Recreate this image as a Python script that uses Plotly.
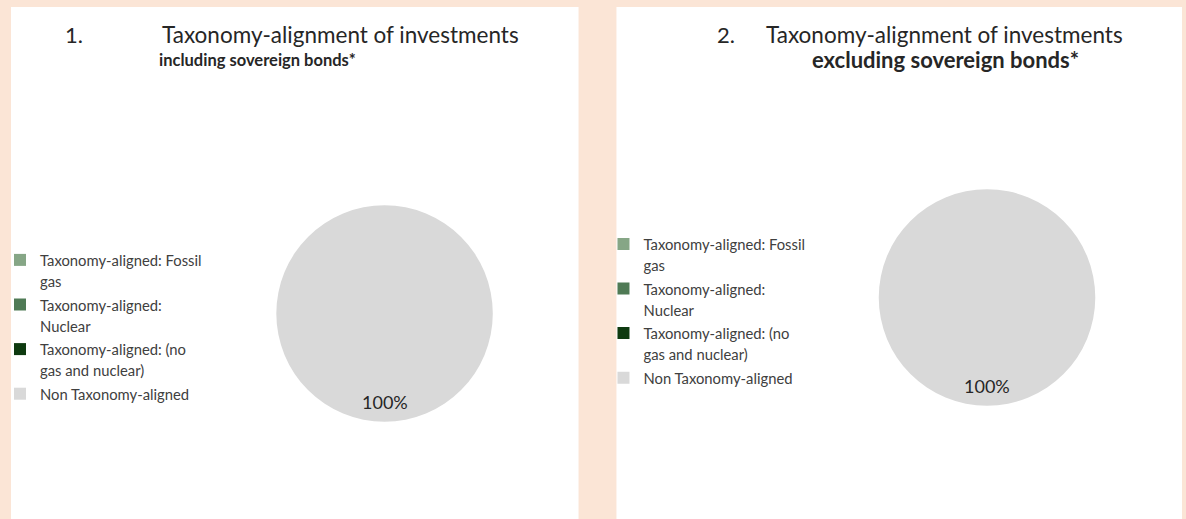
import plotly.graph_objects as go

W, H = 1186, 519

labels = [
    "Taxonomy-aligned: Fossil<br>gas",
    "Taxonomy-aligned:<br>Nuclear",
    "Taxonomy-aligned: (no<br>gas and nuclear)",
    "Non Taxonomy-aligned",
]
colors = ["#86A686", "#4F7A55", "#0E3A10", "#D9D9D9"]
values_incl = [0, 0, 0, 100]
values_excl = [0, 0, 0, 100]

titles = [
    ("1.", "Taxonomy-alignment of investments", "including sovereign bonds*"),
    ("2.", "Taxonomy-alignment of investments", "excluding sovereign bonds*"),
]

FONT = "Lato, 'Open Sans', sans-serif"
TXT = "#262626"


def px(x):
    return x / W


def py(y):
    return 1 - y / H


pies = [
    dict(cx=382.5, cy=313.5, r=108.5, vals=values_incl, legend="legend", group="incl", lx=-3, ly=243),
    dict(cx=986.5, cy=297.5, r=108.5, vals=values_excl, legend="legend2", group="excl", lx=602, ly=227),
]

fig = go.Figure()

for p in pies:
    fig.add_trace(go.Pie(
        labels=[f"<span style='font-size:14.8px'>{l}</span>" for l in labels],
        values=p["vals"],
        marker=dict(colors=colors, line=dict(width=0)),
        sort=False,
        direction="clockwise",
        textinfo="none",
        hoverinfo="label+percent",
        domain=dict(x=[px(p["cx"] - p["r"]), px(p["cx"] + p["r"])],
                    y=[py(p["cy"] + p["r"]), py(p["cy"] - p["r"])]),
        legend=p["legend"],
        legendgroup=p["group"],
        showlegend=True,
    ))
    total = sum(p["vals"])
    for v in p["vals"]:
        if v > 0:
            fig.add_annotation(
                x=px(p["cx"]), y=py(p["cy"] + 0.82 * p["r"]),
                xref="paper", yref="paper",
                xanchor="center", yanchor="middle",
                text=f"{v / total * 100:.0f}%",
                showarrow=False,
                font=dict(family=FONT, size=18, color=TXT),
            )

shapes = [
    dict(type="rect", xref="paper", yref="paper", x0=px(8), x1=px(577), y0=0, y1=py(7),
         fillcolor="white", line=dict(width=0), layer="below"),
    dict(type="rect", xref="paper", yref="paper", x0=px(615), x1=px(1182), y0=0, y1=py(7),
         fillcolor="white", line=dict(width=0), layer="below"),
]

num1, t1, b1 = titles[0]
num2, t2, b2 = titles[1]


def ann(x, y, text, size, anchor="left", bold=False):
    fig.add_annotation(x=px(x), y=py(y), xref="paper", yref="paper",
                       text=f"<b>{text}</b>" if bold else text,
                       showarrow=False, xanchor=anchor, yanchor="middle",
                       font=dict(family=FONT, size=size, color=TXT))


ann(60, 34, num1, 22)
ann(157, 34, t1, 22.5)
ann(154, 60, b1, 16.5, bold=True)
ann(714, 34, num2, 22)
ann(944, 34, t2, 22.5, anchor="center")
ann(945, 60, b2, 22, anchor="center", bold=True)

legend_style = dict(
    font=dict(family=FONT, size=16, color="#404040"),
    bgcolor="rgba(0,0,0,0)",
    valign="top",
    xanchor="left", yanchor="top",
    itemclick=False, itemdoubleclick=False,
)

fig.update_layout(
    width=W, height=H,
    margin=dict(l=0, r=0, t=0, b=0),
    paper_bgcolor="#FBE5D6",
    plot_bgcolor="#FBE5D6",
    shapes=shapes,
    legend=dict(x=px(pies[0]["lx"]), y=py(pies[0]["ly"]), **legend_style),
    legend2=dict(x=px(pies[1]["lx"]), y=py(pies[1]["ly"]), **legend_style),
)

fig.write_html("out.html", config={"displayModeBar": False},
               post_script="document.body.style.margin='0';")
